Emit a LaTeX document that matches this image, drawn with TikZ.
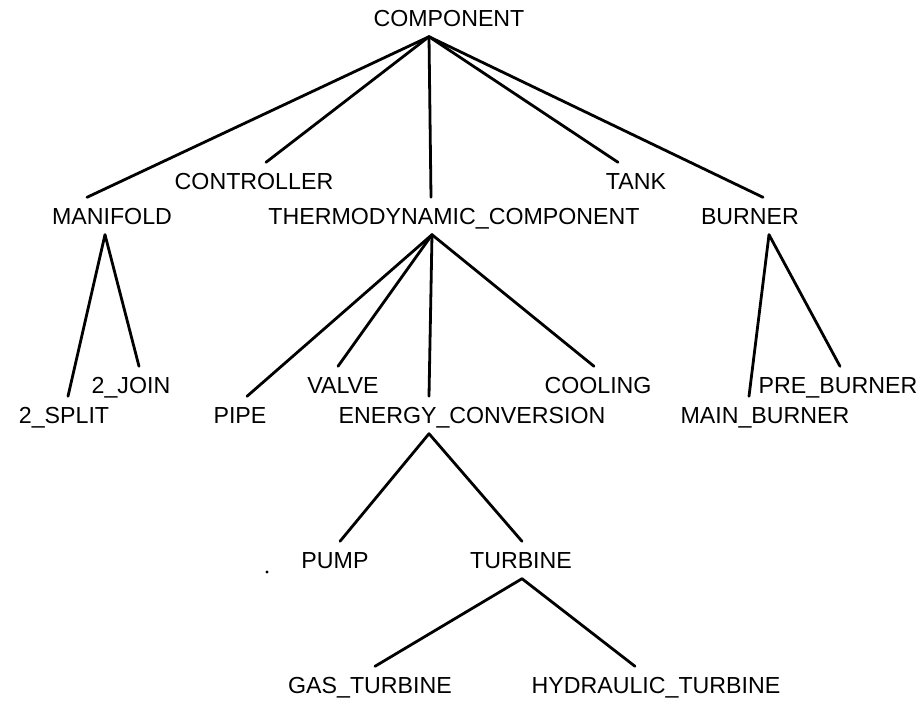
\documentclass[tikz,border=0pt]{standalone}
\usepackage{fontspec}
\setmainfont{Liberation Sans}

\begin{document}
\begin{tikzpicture}[x=0.5pt, y=-0.5pt,
		cls/.style={font=\fontsize{11.6}{14}\selectfont, inner xsep=0pt, inner ysep=5pt, text height=8.3pt, text depth=0pt},
		isa/.style={line width=1.4pt, line cap=round}]
		
		\useasboundingbox (0,0) rectangle (922,702);
		
		% --- ROOT ---
		\node[cls] (component) at (449,18) {COMPONENT};
		
		% --- FIRST LEVEL ---
		\node[cls] (controller) at (254,181) {CONTROLLER};
		\node[cls] (tank) at (636,181) {TANK};
		\node[cls] (manifold) at (112,216) {MANIFOLD};
		\node[cls] (thermo) at (454,216) {THERMODYNAMIC\_COMPONENT};
		\node[cls] (burner) at (750,216) {BURNER};
		
		\draw[isa] ([xshift=-10pt]component.south) -- ([xshift=-12.5pt]manifold.north);
		\draw[isa] ([xshift=-10pt]component.south) -- ([xshift=6pt]controller.north);
		\draw[isa] ([xshift=-10pt]component.south) -- ([xshift=-11.5pt]thermo.north);
		\draw[isa] ([xshift=-10pt]component.south) -- ([xshift=-9pt]tank.north);
		\draw[isa] ([xshift=-10pt]component.south) -- ([xshift=6.5pt]burner.north);
		
		% --- SECOND LEVEL ---
		\node[cls] (join) at (131,385) {2\_JOIN};
		\node[cls] (split) at (64,415) {2\_SPLIT};
		\node[cls] (valve) at (343,385) {VALVE};
		\node[cls] (cooling) at (598,385) {COOLING};
		\node[cls] (pipe) at (240,415) {PIPE};
		\node[cls] (energy) at (472,415) {ENERGY\_CONVERSION};
		\node[cls] (preburner) at (838,385) {PRE\_BURNER};
		\node[cls] (mainburner) at (765,415) {MAIN\_BURNER};
		
		% manifold
		\draw[isa] ([xshift=-3.5pt]manifold.south) -- ([xshift=2pt]split.north);
		\draw[isa] ([xshift=-3.5pt]manifold.south) -- ([xshift=4pt]join.north);
		
		% thermodynamic component
		\draw[isa] ([xshift=-11pt]thermo.south) -- ([xshift=3.5pt]pipe.north);
		\draw[isa] ([xshift=-11pt]thermo.south) -- ([xshift=-2.5pt]valve.north);
		\draw[isa] ([xshift=-11pt]thermo.south) -- ([xshift=-21.5pt]energy.north);
		\draw[isa] ([xshift=-11pt]thermo.south) -- ([xshift=-2pt]cooling.north);
		
		% burner
		\draw[isa] ([xshift=9.5pt]burner.south) -- ([xshift=-8pt]mainburner.north);
		\draw[isa] ([xshift=9.5pt]burner.south) -- ([xshift=1pt]preburner.north);
		
		% --- THIRD LEVEL ---
		\node[cls] (pump) at (335,560) {PUMP};
		\node[cls] (turbine) at (521,560) {TURBINE};
		
		\draw[isa] ([xshift=-21.5pt]energy.south) -- ([xshift=2.5pt]pump.north);
		\draw[isa] ([xshift=-21.5pt]energy.south) -- ([xshift=0.5pt]turbine.north);
		
		% stray dot next to pump
		\fill (267,572) circle (1.6);
		
		% --- FOURTH LEVEL ---
		\node[cls] (gasturbine) at (370,685) {GAS\_TURBINE};
		\node[cls] (hydraulic) at (656,685) {HYDRAULIC\_TURBINE};
		
		\draw[isa] ([xshift=0.5pt]turbine.south) -- ([xshift=2.5pt]gasturbine.north);
		\draw[isa] ([xshift=0.5pt]turbine.south) -- ([xshift=-10.5pt]hydraulic.north);
		
	\end{tikzpicture}
\end{document}
